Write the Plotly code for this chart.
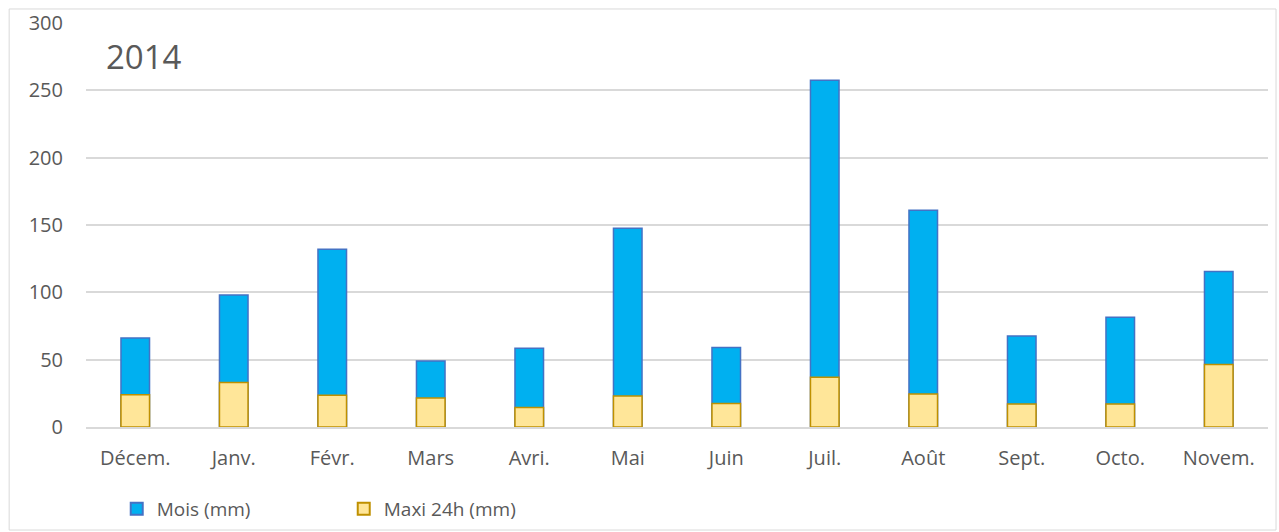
import plotly.graph_objects as go

months = ["Décem.", "Janv.", "Févr.", "Mars", "Avri.", "Mai", "Juin", "Juil.", "Août", "Sept.", "Octo.", "Novem."]
mois_mm = [66, 98, 132, 49, 58.5, 147.5, 59, 257.5, 161, 67.5, 81.5, 115.5]
maxi_24h_mm = [24, 33, 23.5, 21.5, 14.5, 23, 17.5, 37, 24.5, 17, 17, 46.5]
y_ticks = [0, 50, 100, 150, 200, 250, 300]

txt = "#595959"
fnt = "Open Sans, Liberation Sans, sans-serif"

fig = go.Figure()
fig.add_trace(go.Bar(x=months, y=mois_mm, name="Mois (mm)", width=0.29,
                     marker=dict(color="#00B0F0", line=dict(color="#4472C4", width=1.5))))
fig.add_trace(go.Bar(x=months, y=maxi_24h_mm, name="Maxi 24h (mm)", width=0.29,
                     marker=dict(color="#FFE699", line=dict(color="#BF9000", width=1.5))))

fig.update_layout(
    width=1279, height=532,
    margin=dict(l=86, r=11, t=23, b=105, autoexpand=False),
    barmode="overlay",
    plot_bgcolor="white", paper_bgcolor="white",
    font=dict(family=fnt, color=txt, size=20),
    showlegend=True,
    legend=dict(orientation="h", x=0.026, xanchor="left", y=-0.203, yanchor="middle",
                font=dict(size=19, color=txt), entrywidth=182, entrywidthmode="pixels",
                itemsizing="constant", traceorder="normal"),
    xaxis=dict(showgrid=False, showline=True, linecolor="#D9D9D9", linewidth=1.5,
               ticks="", tickfont=dict(size=20, color=txt), automargin=False,
               ticklabelstandoff=12),
    yaxis=dict(range=[0, 300], tickvals=y_ticks, showgrid=True, gridcolor="#D9D9D9",
               gridwidth=1.5, zeroline=False, ticks="", tickfont=dict(size=20, color=txt),
               ticklabelstandoff=22, automargin=False),
    shapes=[dict(type="rect", xref="paper", yref="paper", x0=-0.065, x1=1.0068,
                 y0=-0.255, y1=1.0347, line=dict(color="#D9D9D9", width=1), layer="below")],
    annotations=[dict(text="2014", xref="paper", yref="paper", x=0.015, y=0.917,
                      xanchor="left", yanchor="middle", showarrow=False,
                      font=dict(size=33, color=txt, family=fnt))],
)

fig.write_html("out.html", config={"displayModeBar": False},
               post_script="document.body.style.margin='0px';")
